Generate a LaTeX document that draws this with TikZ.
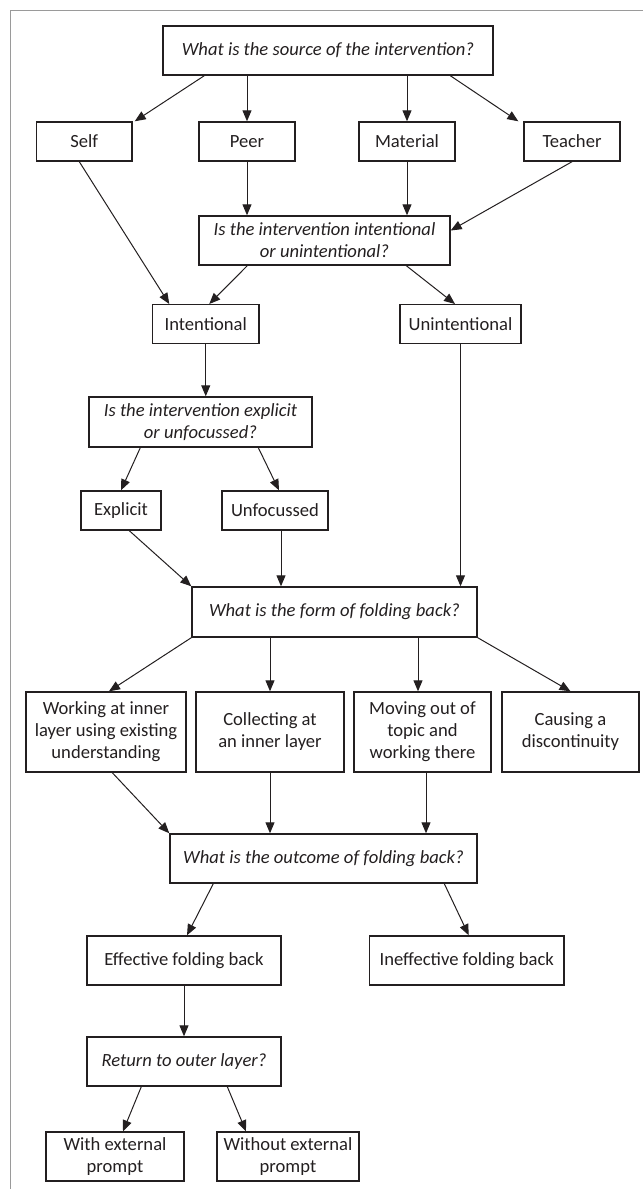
\documentclass[tikz,border=0pt]{standalone}
\usepackage{fontspec}
\setmainfont{Carlito}
\usetikzlibrary{arrows.meta}
\definecolor{ink}{HTML}{231F20}
\definecolor{framegray}{HTML}{9A9A9A}
\begin{document}
\begin{tikzpicture}[x=1pt,y=-1pt,
  box/.style={draw=ink,line width=1.4pt,inner sep=0pt,align=center,text=ink,
    font=\fontsize{18.6}{22}\selectfont},
  qbox/.style={box,font=\fontsize{18.6}{22}\selectfont\itshape},
  arr/.style={draw=ink,line width=1pt,-{Triangle[length=11pt,width=9pt]}}]
\useasboundingbox (0,0) rectangle (643,1189);
\draw[framegray,line width=1pt] (10.5,1189) -- (10.5,10.5) -- (643,10.5);
% nodes
\node[qbox,minimum width=330,minimum height=49] (q1) at (328,50.5) {What is the source of the intervention?};
\node[box,minimum width=95.5,minimum height=39] (self) at (84.25,141.5) {Self};
\node[box,minimum width=96,minimum height=39] (peer) at (247,141.5) {Peer};
\node[box,minimum width=96,minimum height=39] (material) at (407,141.5) {Material};
\node[box,minimum width=96,minimum height=39] (teacher) at (572,141.5) {Teacher};
\node[qbox,minimum width=251,minimum height=49] (q2) at (324.5,240.5) {Is the intervention intentional\\or unintentional?};
\node[box,minimum width=106.5,minimum height=38.6] (intentional) at (205.75,324) {Intentional};
\node[box,minimum width=121,minimum height=38.6] (unintentional) at (460.5,324) {Unintentional};
\node[qbox,minimum width=223,minimum height=50] (q3) at (200.5,422) {Is the intervention explicit\\or unfocussed?};
\node[box,minimum width=80,minimum height=39] (explicit) at (121,510.5) {Explicit};
\node[box,minimum width=106,minimum height=39] (unfocussed) at (275,510.5) {Unfocussed};
\node[qbox,minimum width=285,minimum height=50] (q4) at (334.5,612) {What is the form of folding back?};
\node[box,minimum width=160,minimum height=80] (working) at (106,732) {Working at inner\\layer using existing\\understanding};
\node[box,minimum width=148,minimum height=80] (collecting) at (270,732) {Collecting at\\an inner layer};
\node[box,minimum width=137,minimum height=80] (moving) at (422.5,732) {Moving out of\\topic and\\working there};
\node[box,minimum width=137,minimum height=80] (causing) at (570.5,732) {Causing a\\discontinuity};
\node[qbox,minimum width=307,minimum height=49] (q5) at (323.5,858.5) {What is the outcome of folding back?};
\node[box,minimum width=194,minimum height=49] (effective) at (184,960.5) {Effective folding back};
\node[box,minimum width=194.5,minimum height=49] (ineffective) at (466.75,960.5) {Ineffective folding back};
\node[qbox,minimum width=194,minimum height=49] (q6) at (184,1061.5) {Return to outer layer?};
\node[box,minimum width=138,minimum height=49] (with) at (115,1156.5) {With external\\prompt};
\node[box,minimum width=142,minimum height=49] (without) at (288,1156.5) {Without external\\prompt};
% connectors
\draw[arr] ([xshift=42]q1.south west) -- ([xshift=2]self.north east);
\draw[arr] (peer.north |- q1.south) -- (peer.north);
\draw[arr] (material.north |- q1.south) -- (material.north);
\draw[arr] ([xshift=288]q1.south west) -- ([xshift=-5]teacher.north west);
\draw[arr] ([xshift=43.5]self.south west) -- ([xshift=17.5]intentional.north west);
\draw[arr] (peer.south) -- (peer.south |- q2.north);
\draw[arr] (material.south) -- (material.south |- q2.north);
\draw[arr] (teacher.south) -- ([yshift=10]q2.east);
\draw[arr] ([xshift=49]q2.south west) -- ([xshift=3.5]intentional.north);
\draw[arr] ([xshift=208]q2.south west) -- ([xshift=-5.5]unintentional.north);
\draw[arr] (intentional.south) -- (intentional.south |- q3.north);
\draw[arr] ([xshift=52]q3.south west) -- (explicit.north);
\draw[arr] ([xshift=170]q3.south west) -- ([xshift=4]unfocussed.north);
\draw[arr] ([xshift=49]explicit.south west) -- (q4.north west);
\draw[arr] ([xshift=6]unfocussed.south) -- ([xshift=6]unfocussed.south |- q4.north);
\draw[arr] (unintentional.south) -- (unintentional.south |- q4.north);
\draw[arr] (q4.south west) -- ([xshift=3]working.north);
\draw[arr] (collecting.north |- q4.south) -- (collecting.north);
\draw[arr] ([xshift=-4.5]moving.north |- q4.south) -- ([xshift=-4.5]moving.north);
\draw[arr] (q4.south east) -- (causing.north);
\draw[arr] ([xshift=87]working.south west) -- (q5.north west);
\draw[arr] (collecting.south) -- (collecting.south |- q5.north);
\draw[arr] ([xshift=3.5]moving.south) -- ([xshift=3.5]moving.south |- q5.north);
\draw[arr] ([xshift=44]q5.south west) -- ([xshift=3]effective.north);
\draw[arr] ([xshift=275]q5.south west) -- ([xshift=2]ineffective.north);
\draw[arr] (effective.south) -- (q6.north);
\draw[arr] ([xshift=55]q6.south west) -- ([xshift=8]with.north);
\draw[arr] ([xshift=141]q6.south west) -- ([xshift=-42]without.north);
\end{tikzpicture}
\end{document}
